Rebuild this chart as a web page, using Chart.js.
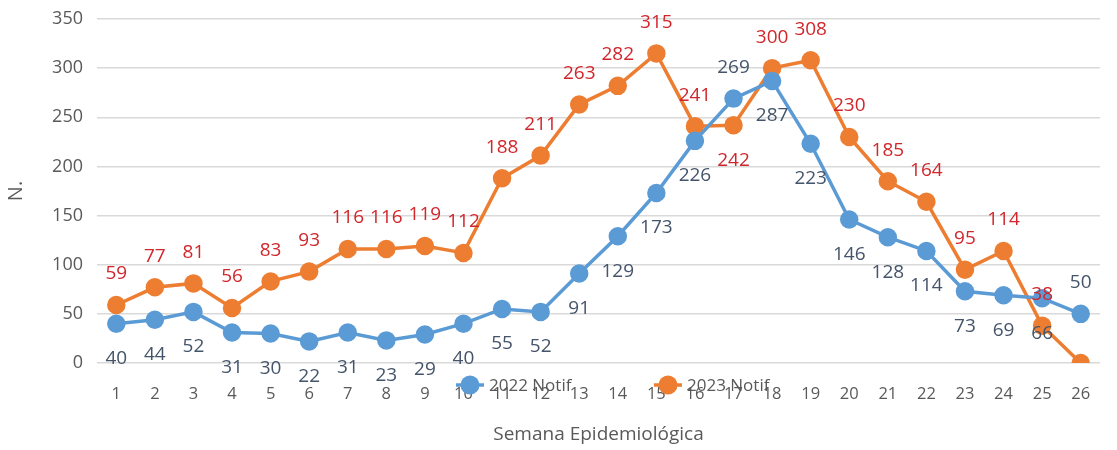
<!DOCTYPE html>
<html>
<head>
<meta charset="utf-8">
<script src="https://cdn.jsdelivr.net/npm/chart.js@4.4.0/dist/chart.umd.min.js"></script>
<style>
  html, body { margin: 0; padding: 0; background: #fff; }
  #wrap { width: 1117px; height: 450px; }
</style>
</head>
<body>
<div id="wrap"><canvas id="chart"></canvas></div>
<script>
const weeks = ['1','2','3','4','5','6','7','8','9','10','11','12','13','14','15','16','17','18','19','20','21','22','23','24','25','26'];
const notif2022 = [40, 44, 52, 31, 30, 22, 31, 23, 29, 40, 55, 52, 91, 129, 173, 226, 269, 287, 223, 146, 128, 114, 73, 69, 66, 50];
const notif2023 = [59, 77, 81, 56, 83, 93, 116, 116, 119, 112, 188, 211, 263, 282, 315, 241, 242, 300, 308, 230, 185, 164, 95, 114, 38, 0];
const yTicks = [0, 50, 100, 150, 200, 250, 300, 350];

const FONT = '"Open Sans", sans-serif';
const BLUE = '#5B9BD5';
const ORANGE = '#ED7D31';

// where each point's value label sits (Excel put a few of them on the other side)
const blueLabelSide = weeks.map((w, i) => (i === 16 || i === 25) ? 'above' : 'below');
const orangeLabelSide = weeks.map((w, i) => i === 16 ? 'below' : (i === 25 ? 'none' : 'above'));

// draws value labels next to points
const pointLabels = {
    id: 'pointLabels',
    afterDatasetsDraw(chart) {
        const ctx = chart.ctx;
        ctx.save();
        ctx.font = '19px ' + FONT;
        ctx.textAlign = 'center';
        ctx.textBaseline = 'middle';
        chart.data.datasets.forEach((ds, di) => {
            const meta = chart.getDatasetMeta(di);
            meta.data.forEach((pt, i) => {
                const side = ds.labelSide[i];
                if (side === 'none') return;
                const dy = side === 'above' ? -31 : 35;
                ctx.fillStyle = ds.labelColor;
                ctx.fillText(String(ds.data[i]), pt.x, pt.y + dy);
            });
        });
        ctx.restore();
    }
};

// legend drawn over the x axis, like the original
const overlayLegend = {
    id: 'overlayLegend',
    afterDraw(chart) {
        const ctx = chart.ctx;
        const y = 385;
        const starts = [470, 668];
        ctx.save();
        ctx.font = '17px ' + FONT;
        ctx.textBaseline = 'middle';
        ctx.textAlign = 'left';
        chart.data.datasets.forEach((ds, i) => {
            const cx = starts[i];
            ctx.strokeStyle = ds.borderColor;
            ctx.lineWidth = 3.5;
            ctx.beginPath();
            ctx.moveTo(cx - 14, y);
            ctx.lineTo(cx + 14, y);
            ctx.stroke();
            ctx.fillStyle = ds.borderColor;
            ctx.beginPath();
            ctx.arc(cx, y, 9.5, 0, Math.PI * 2);
            ctx.fill();
            ctx.fillStyle = '#595959';
            ctx.fillText(ds.label, cx + 19, y + 1);
        });
        ctx.restore();
    }
};

new Chart(document.getElementById('chart'), {
    type: 'line',
    data: {
        labels: weeks,
        datasets: [{
            label: '2022 Notif',
            data: notif2022,
            borderColor: BLUE,
            backgroundColor: BLUE,
            borderWidth: 3.5,
            pointRadius: 7.5,
            pointHoverRadius: 7.5,
            labelColor: '#44546A',
            labelSide: blueLabelSide
        }, {
            label: '2023 Notif',
            data: notif2023,
            borderColor: ORANGE,
            backgroundColor: ORANGE,
            borderWidth: 3.5,
            pointRadius: 7.5,
            pointHoverRadius: 7.5,
            labelColor: '#D1262B',
            labelSide: orangeLabelSide
        }]
    },
    options: {
        responsive: true,
        maintainAspectRatio: false,
        animation: false,
        layout: { padding: { left: 0, right: 17, top: 19, bottom: 0 } },
        plugins: {
            legend: { display: false },
            tooltip: { enabled: false }
        },
        scales: {
            x: {
                offset: true,
                grid: { display: false, drawTicks: false },
                border: { display: false },
                ticks: { color: '#595959', font: { family: FONT, size: 16.5 }, padding: 21, maxRotation: 0, autoSkip: false },
                title: { display: true, text: 'Semana Epidemiológica', color: '#595959', font: { family: FONT, size: 19 }, padding: { top: 10 } },
                afterFit(scale) { scale.height = 87; }
            },
            y: {
                min: 0,
                max: 350,
                afterBuildTicks(scale) { scale.ticks = yTicks.map(v => ({ value: v })); },
                grid: { color: '#D9D9D9', lineWidth: 1.5, drawTicks: false },
                border: { display: false },
                ticks: { color: '#595959', font: { family: FONT, size: 18 }, padding: 14 },
                title: { display: true, text: 'N.', color: '#595959', font: { family: FONT, size: 20 }, padding: { bottom: 0 } },
                afterFit(scale) {
                    scale.width = 97;
                    scale.paddingTop = 0;
                    scale.paddingBottom = 0;
                }
            }
        }
    },
    plugins: [pointLabels, overlayLegend]
});
</script>
</body>
</html>
